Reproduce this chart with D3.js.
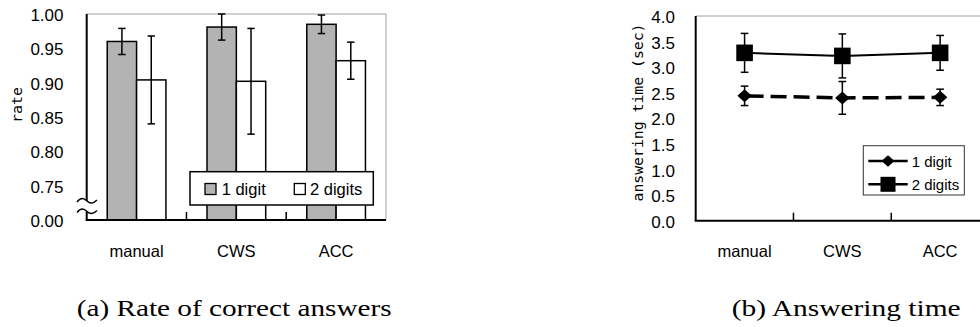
<!DOCTYPE html>
<html><head><meta charset="utf-8">
<script src="https://cdn.jsdelivr.net/npm/d3@7"></script>
<style>body{margin:0;background:#fff}svg{display:block}</style></head>
<body><svg id="c" width="980" height="327"></svg>
<script>
const categories = ["manual", "CWS", "ACC"];
const seriesNames = ["1 digit", "2 digits"];
const rateOneDigit = [0.960, 0.981, 0.985];
const rateOneDigitErr = [0.019, 0.019, 0.0135];
const rateTwoDigits = [0.904, 0.902, 0.932];
const rateTwoDigitsErr = [0.064, 0.077, 0.027];
const rateTicks = [0.70, 0.75, 0.80, 0.85, 0.90, 0.95, 1.00];
const rateTickLabels = ["0.00", "0.75", "0.80", "0.85", "0.90", "0.95", "1.00"];
const timeOneDigit = [2.44, 2.40, 2.41];
const timeOneDigitErr = [0.19, 0.32, 0.16];
const timeTwoDigits = [3.28, 3.22, 3.28];
const timeTwoDigitsErr = [0.38, 0.43, 0.34];
const timeTicks = [0, 0.5, 1, 1.5, 2, 2.5, 3, 3.5, 4];

const svg = d3.select("#c");
const SANS = "'Liberation Sans', Arial, sans-serif";
const MONO = "'DejaVu Sans Mono', monospace";
const SERIF = "'Liberation Serif', 'Times New Roman', serif";

// ---------- Chart (a) ----------
{
  const L = 86.7, R = 386, T = 14, B = 220;
  const x = d3.scaleBand().domain(categories).range([L, R]);
  const xs = d3.scaleBand().domain(seriesNames).range([0, x.bandwidth()]).paddingOuter(0.7).paddingInner(0);
  const y = d3.scaleLinear().domain([0.70, 1.00]).range([B, T]);
  const g = svg.append("g");

  // gray top/right border
  g.append("path").attr("d", `M${L},${T}H${R}V${B}`).attr("fill", "none").attr("stroke", "#a0a0a0").attr("stroke-width", 1);

  const data = categories.map((c, i) => [
    {c, s: seriesNames[0], v: rateOneDigit[i], e: rateOneDigitErr[i]},
    {c, s: seriesNames[1], v: rateTwoDigits[i], e: rateTwoDigitsErr[i]}
  ]).flat();
  const fills = {"1 digit": "#b3b3b3", "2 digits": "#ffffff"};

  g.selectAll("rect.bar").data(data).join("rect").attr("class", "bar")
    .attr("x", d => x(d.c) + xs(d.s)).attr("width", xs.bandwidth())
    .attr("y", d => y(d.v)).attr("height", d => y(0.70) - y(d.v))
    .attr("fill", d => fills[d.s]).attr("stroke", "#000").attr("stroke-width", 1.5);

  const eb = g.selectAll("g.eb").data(data).join("g").attr("class", "eb")
    .attr("transform", d => `translate(${x(d.c) + xs(d.s) + xs.bandwidth() / 2},0)`);
  eb.append("line").attr("y1", d => y(Math.min(1.0, d.v + d.e))).attr("y2", d => y(d.v - d.e)).attr("stroke", "#000").attr("stroke-width", 1.5);
  eb.append("line").attr("x1", -3.7).attr("x2", 3.7).attr("y1", d => y(Math.min(1.0, d.v + d.e))).attr("y2", d => y(Math.min(1.0, d.v + d.e))).attr("stroke", "#000").attr("stroke-width", 1.5);
  eb.append("line").attr("x1", -3.7).attr("x2", 3.7).attr("y1", d => y(d.v - d.e)).attr("y2", d => y(d.v - d.e)).attr("stroke", "#000").attr("stroke-width", 1.5);

  // axes
  g.append("line").attr("x1", L).attr("x2", L).attr("y1", T).attr("y2", B).attr("stroke", "#000").attr("stroke-width", 2);
  g.append("line").attr("x1", L - 1).attr("x2", R).attr("y1", B).attr("y2", B).attr("stroke", "#000").attr("stroke-width", 2);
  const xb = x.domain().slice(1).map(c => x(c));
  g.selectAll("line.xt").data(xb).join("line").attr("class", "xt")
    .attr("x1", d => d).attr("x2", d => d).attr("y1", B).attr("y2", B - 8).attr("stroke", "#000").attr("stroke-width", 1.5);

  // axis break
  const yb1 = 201, yb2 = 211.5;
  g.append("rect").attr("x", L - 3).attr("y", yb1).attr("width", 6).attr("height", yb2 - yb1).attr("fill", "#fff");
  [yb1, yb2].forEach(yy => {
    g.append("path").attr("d", `M77,${yy + 1} C81,${yy - 4} 84,${yy - 3} 87,${yy} S93,${yy + 3} 97,${yy - 1}`)
      .attr("fill", "none").attr("stroke", "#000").attr("stroke-width", 1.3);
  });

  // y tick labels
  g.selectAll("text.yt").data(rateTicks).join("text").attr("class", "yt")
    .attr("x", 63.5).attr("y", d => y(d) + 7).attr("text-anchor", "end")
    .attr("font-family", SANS).attr("font-size", 17).text((d, i) => rateTickLabels[i]);

  // x labels
  g.selectAll("text.xl").data(categories).join("text").attr("class", "xl")
    .attr("x", d => x(d) + x.bandwidth() / 2).attr("y", 257).attr("text-anchor", "middle")
    .attr("font-family", SANS).attr("font-size", 16.5).text(d => d);

  g.append("text").attr("transform", "translate(22,105) rotate(-90)").attr("text-anchor", "middle")
    .attr("font-family", MONO).attr("font-size", 14.5).attr("textLength", 36).attr("lengthAdjust", "spacingAndGlyphs").text("rate");

  // legend
  const lg = g.append("g");
  lg.append("rect").attr("x", 190).attr("y", 171.7).attr("width", 183.3).attr("height", 33.3).attr("fill", "#fff").attr("stroke", "#000").attr("stroke-width", 1.5);
  const lx = [205, 294.3], tx = [221.7, 310];
  seriesNames.forEach((s, i) => {
    lg.append("rect").attr("x", lx[i]).attr("y", 183.5).attr("width", 11).attr("height", 11).attr("fill", fills[s]).attr("stroke", "#000").attr("stroke-width", 1.3);
    lg.append("text").attr("x", tx[i]).attr("y", 195).attr("font-family", SANS).attr("font-size", 16.5).text(s);
  });

  svg.append("text").attr("x", 76.7).attr("y", 316).attr("font-family", SERIF).attr("font-size", 24)
    .attr("textLength", 315).attr("lengthAdjust", "spacingAndGlyphs").text("(a) Rate of correct answers");
}

// ---------- Chart (b) ----------
{
  const L = 695.7, R = 989, T = 16, B = 220.7;
  const x = d3.scaleBand().domain(categories).range([L, R]);
  const y = d3.scaleLinear().domain([0, 4]).range([B, T]);
  const g = svg.append("g");
  const cx = c => x(c) + x.bandwidth() / 2;

  g.append("path").attr("d", `M${L},${T}H${R}V${B}`).attr("fill", "none").attr("stroke", "#a0a0a0").attr("stroke-width", 1);
  g.append("line").attr("x1", L).attr("x2", L).attr("y1", T).attr("y2", B).attr("stroke", "#000").attr("stroke-width", 2);
  g.append("line").attr("x1", L - 1).attr("x2", R).attr("y1", B).attr("y2", B).attr("stroke", "#000").attr("stroke-width", 2);
  g.selectAll("line.xt").data(categories.slice(1)).join("line").attr("class", "xt")
    .attr("x1", d => x(d)).attr("x2", d => x(d)).attr("y1", B).attr("y2", B - 8).attr("stroke", "#000").attr("stroke-width", 1.5);

  g.selectAll("text.yt").data(timeTicks).join("text").attr("class", "yt")
    .attr("x", 675).attr("y", d => y(d) + 7).attr("text-anchor", "end")
    .attr("font-family", SANS).attr("font-size", 17).text(d => d3.format(".1f")(d));

  g.selectAll("text.xl").data(categories).join("text").attr("class", "xl")
    .attr("x", d => cx(d)).attr("y", 257).attr("text-anchor", "middle")
    .attr("font-family", SANS).attr("font-size", 16.5).text(d => d);

  g.append("text").attr("transform", "translate(643,112.5) rotate(-90)").attr("text-anchor", "middle")
    .attr("font-family", MONO).attr("font-size", 14.5).attr("textLength", 178).attr("lengthAdjust", "spacingAndGlyphs").text("answering time (sec)");

  const s1 = categories.map((c, i) => ({c, v: timeOneDigit[i], e: timeOneDigitErr[i]}));
  const s2 = categories.map((c, i) => ({c, v: timeTwoDigits[i], e: timeTwoDigitsErr[i]}));
  const line = d3.line().x(d => cx(d.c)).y(d => y(d.v));

  g.append("path").attr("d", line(s1)).attr("fill", "none").attr("stroke", "#000").attr("stroke-width", 3.5).attr("stroke-dasharray", "16,7").attr("stroke-dashoffset", -3);
  g.append("path").attr("d", line(s2)).attr("fill", "none").attr("stroke", "#000").attr("stroke-width", 2);

  const errs = (sel, d) => {
    sel.append("line").attr("x1", cx(d.c)).attr("x2", cx(d.c)).attr("y1", y(d.v + d.e)).attr("y2", y(d.v - d.e)).attr("stroke", "#000").attr("stroke-width", 1.5);
    [d.v + d.e, d.v - d.e].forEach(v => sel.append("line").attr("x1", cx(d.c) - 3.8).attr("x2", cx(d.c) + 3.8).attr("y1", y(v)).attr("y2", y(v)).attr("stroke", "#000").attr("stroke-width", 1.5));
  };
  s1.forEach(d => errs(g, d));
  s2.forEach(d => errs(g, d));

  const diamond = (px, py, w, h) => `M${px},${py - h / 2}L${px + w / 2},${py}L${px},${py + h / 2}L${px - w / 2},${py}Z`;
  g.selectAll("path.dm").data(s1).join("path").attr("class", "dm").attr("d", d => diamond(cx(d.c), y(d.v), 14.5, 13)).attr("fill", "#000");
  g.selectAll("rect.sq").data(s2).join("rect").attr("class", "sq")
    .attr("x", d => cx(d.c) - 8.3).attr("y", d => y(d.v) - 8.3).attr("width", 16.6).attr("height", 16.6).attr("fill", "#000");

  // legend
  g.append("rect").attr("x", 863.3).attr("y", 145.7).attr("width", 101).attr("height", 49.3).attr("fill", "#fff").attr("stroke", "#333").attr("stroke-width", 1);
  const rows = [161, 184.3];
  rows.forEach((ry, i) => {
    g.append("line").attr("x1", 868.3).attr("x2", 907.7).attr("y1", ry).attr("y2", ry).attr("stroke", "#000").attr("stroke-width", 2.5);
    g.append("text").attr("x", 911.7).attr("y", ry + 5.5).attr("font-family", SANS).attr("font-size", 15).text(seriesNames[i]);
  });
  g.append("path").attr("d", diamond(888, rows[0], 13, 11.5)).attr("fill", "#000");
  g.append("rect").attr("x", 880.5).attr("y", rows[1] - 7.5).attr("width", 15).attr("height", 15).attr("fill", "#000");

  svg.append("text").attr("x", 731.7).attr("y", 316).attr("font-family", SERIF).attr("font-size", 24)
    .attr("textLength", 229).attr("lengthAdjust", "spacingAndGlyphs").text("(b) Answering time");
}
</script></body></html>
